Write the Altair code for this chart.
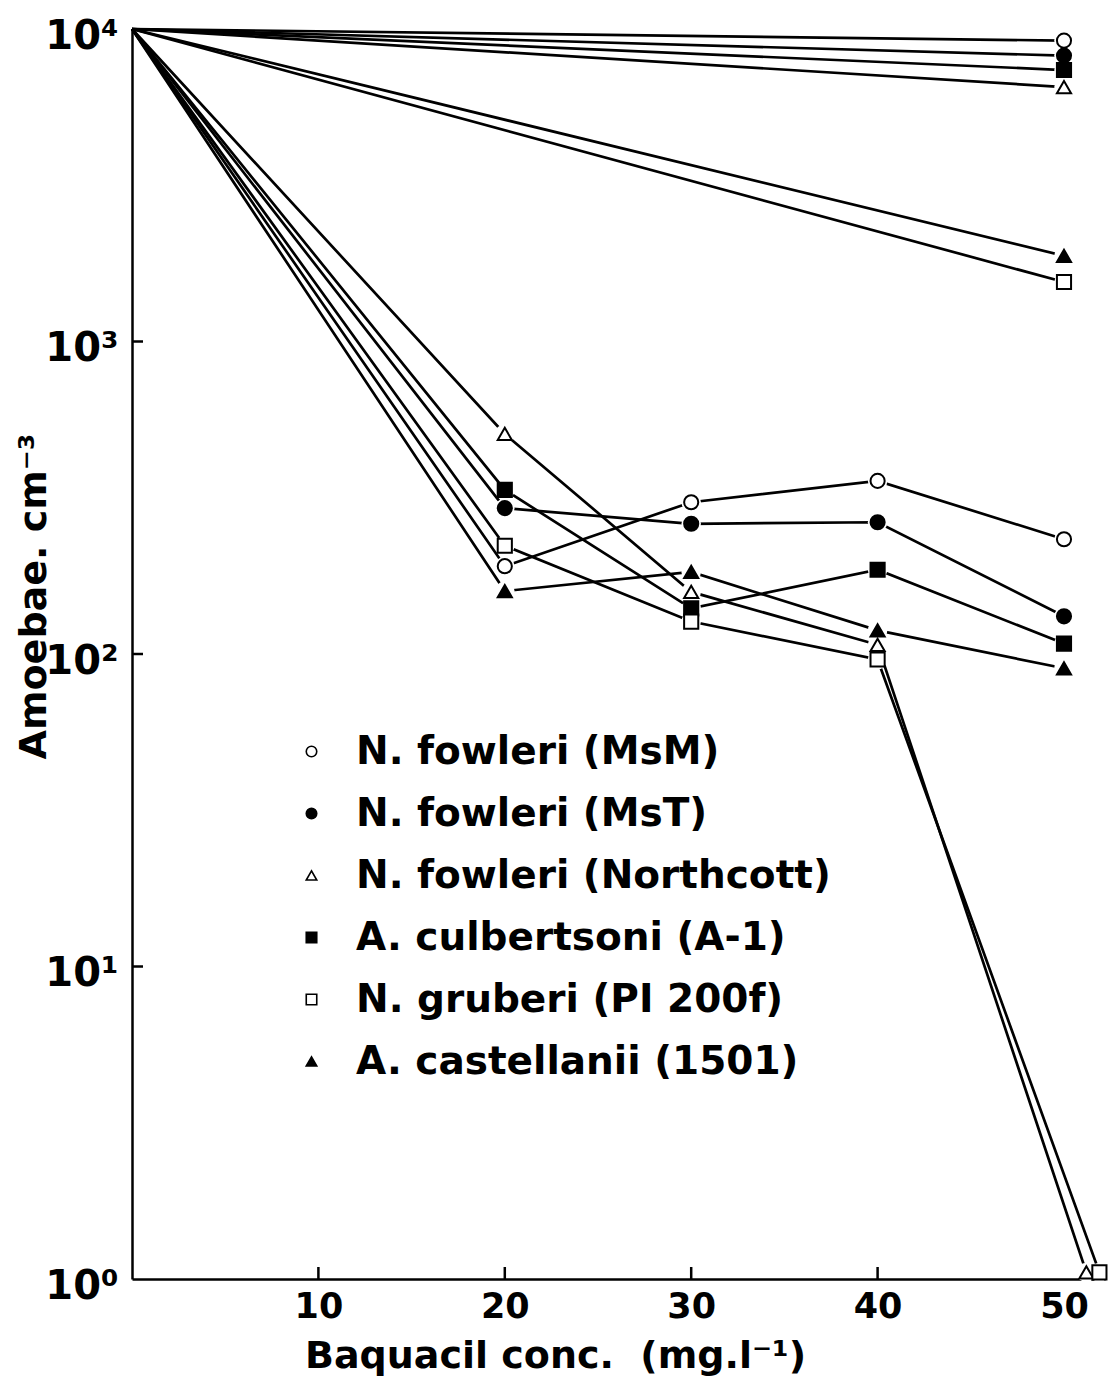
import altair as alt
import pandas as pd

# ---------------- data ----------------
series = [
    "N. fowleri (MsM)",
    "N. fowleri (MsT)",
    "N. fowleri (Northcott)",
    "A. culbertsoni (A-1)",
    "N. gruberi (PI 200f)",
    "A. castellanii (1501)",
]
shapes = ["circle", "circle", "triangle-up", "square", "square", "triangle-up"]
fills = ["white", "black", "white", "black", "white", "black"]
strokes = ["black", "black", "black", "black", "black", "black"]

start_x = 0
start_y = 10000

# first set: straight lines from the start to 50 mg/l
top_x = [50, 50, 50, 50, 50, 50]
top_y = [9180, 8220, 6520, 7390, 1550, 1880]

# second set: 20, 30, 40, 50 mg/l
msm_x = [20, 30, 40, 50]
msm_y = [191, 306, 358, 233]
mst_x = [20, 30, 40, 50]
mst_y = [293, 261, 264, 132]
nor_x = [20, 30, 40, 51.2]
nor_y = [506, 158, 107, 1.05]
a1_x = [20, 30, 40, 50]
a1_y = [335, 140, 186, 108]
pl_x = [20, 30, 40, 51.9]
pl_y = [222, 127, 96, 1.05]
c1501_x = [20, 30, 40, 50]
c1501_y = [159, 183, 119, 90]

bottom_sets = [
    (msm_x, msm_y), (mst_x, mst_y), (nor_x, nor_y),
    (a1_x, a1_y), (pl_x, pl_y), (c1501_x, c1501_y),
]

y_tick_values = [10, 100, 1000]
x_tick_values = [10, 20, 30, 40]
y_label_values = [1, 10, 100, 1000, 10000]
x_label_values = [10, 20, 30, 40, 50]

# ---------------- tables ----------------
line_rows = []
point_rows = []
for i, s in enumerate(series):
    line_rows.append({"series": s, "line": f"{i}a", "order": 0, "x": start_x, "y": start_y})
    line_rows.append({"series": s, "line": f"{i}a", "order": 1, "x": top_x[i], "y": top_y[i]})
    point_rows.append({"series": s, "x": top_x[i], "y": top_y[i]})
    line_rows.append({"series": s, "line": f"{i}b", "order": 0, "x": start_x, "y": start_y})
    bx, by = bottom_sets[i]
    for k, (xv, yv) in enumerate(zip(bx, by)):
        line_rows.append({"series": s, "line": f"{i}b", "order": k + 1, "x": xv, "y": yv})
        point_rows.append({"series": s, "x": xv, "y": yv})

lines_df = pd.DataFrame(line_rows)
points_df = pd.DataFrame(point_rows)
ytick_df = pd.DataFrame({"y": y_tick_values})
xtick_df = pd.DataFrame({"x": x_tick_values})

FONT = "DejaVu Sans"
W, H = 973, 1250

xscale = alt.Scale(domain=[0, 52.2], nice=False, zero=False)
yscale = alt.Scale(type="log", domain=[1, 10000], nice=False)

xaxis = alt.Axis(
    values=x_label_values, ticks=False, tickSize=0, grid=False,
    domainColor="black", domainWidth=2.5,
    labelFont=FONT, labelFontWeight="bold", labelFontSize=35, labelColor="black",
    labelPadding=10,
    title="Baquacil conc.\u00a0\u00a0(mg.l\u207b\u00b9)",
    titleFont=FONT, titleFontWeight="bold", titleFontSize=38, titleColor="black",
    titleX=423, titleY=88, titleBaseline="alphabetic",
)
yaxis = alt.Axis(
    values=y_label_values, ticks=False, tickSize=0, grid=False,
    domainColor="black", domainWidth=2.5,
    labelExpr="'10' + ['\u2070','\u00b9','\u00b2','\u00b3','\u2074'][round(log(datum.value)/LN10)]",
    labelFont=FONT, labelFontWeight="bold", labelFontSize=40, labelColor="black",
    labelPadding=14, labelBaseline="middle", labelOffset=7,
    title="Amoebae. cm\u207b\u00b3",
    titleFont=FONT, titleFontWeight="bold", titleFontSize=38, titleColor="black",
    titleAngle=270, titleX=-87, titleY=567, titleBaseline="alphabetic",
)

X = alt.X("x:Q", scale=xscale, axis=xaxis)
Y = alt.Y("y:Q", scale=yscale, axis=yaxis)

lines = alt.Chart(lines_df).mark_line(color="black", strokeWidth=2.7).encode(
    x=X, y=Y, detail="line:N", order="order:Q"
)

halos = alt.Chart(points_df).mark_point(
    filled=True, color="white", size=380, opacity=1, shape="circle"
).encode(x=X, y=Y)

points = alt.Chart(points_df).mark_point(
    filled=True, size=200, strokeWidth=2, opacity=1
).encode(
    x=X, y=Y,
    shape=alt.Shape("series:N", scale=alt.Scale(domain=series, range=shapes), title=None),
    fill=alt.Fill("series:N", scale=alt.Scale(domain=series, range=fills), title=None),
    stroke=alt.Stroke("series:N", scale=alt.Scale(domain=series, range=strokes), title=None),
)

yticks = alt.Chart(ytick_df).mark_rule(color="black", strokeWidth=2.5).encode(
    y=Y, x=alt.value(0), x2=alt.value(11)
)
xticks = alt.Chart(xtick_df).mark_rule(color="black", strokeWidth=2.5).encode(
    x=X, y=alt.value(H), y2=alt.value(H - 12)
)

chart = (
    alt.layer(lines, halos, points, yticks, xticks)
    .properties(
        width=W, height=H,
        autosize=alt.AutoSizeParams(type="none"),
        padding={"left": 124, "top": 21, "right": 5, "bottom": 100},
        background="white",
    )
    .configure_view(stroke=None)
    .configure_legend(
        orient="none", legendX=160, legendY=703,
        labelFont=FONT, labelFontWeight="bold", labelFontSize=39, labelColor="black",
        labelLimit=0, labelOffset=25,
        symbolSize=110, symbolStrokeWidth=1.6,
        rowPadding=22, padding=0,
    )
)

chart.save("out.html", embed_options={"renderer": "svg", "actions": False})
